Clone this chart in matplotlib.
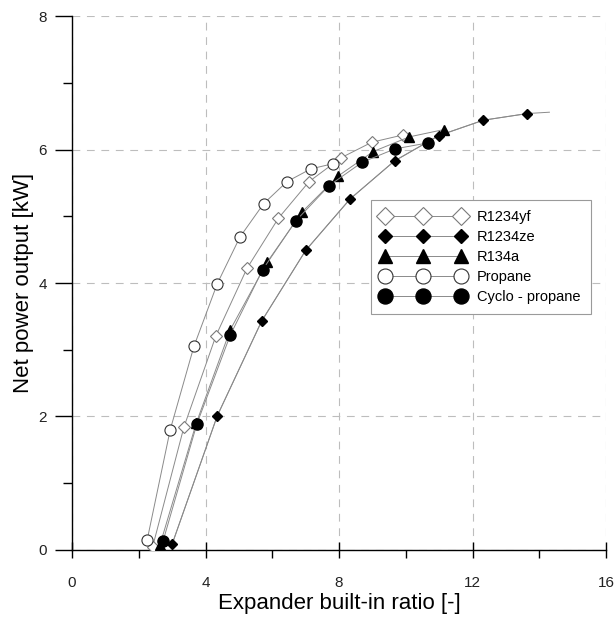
#!/usr/bin/env python3
import numpy as np
import matplotlib
matplotlib.use("Agg")
import matplotlib.pyplot as plt
from matplotlib.ticker import MultipleLocator

# =============================================================================
# data

yf_x = [2.41, 3.35, 4.31, 5.24, 6.18, 7.10, 8.07, 8.98, 9.92]
yf_y = [0.04, 1.84, 3.21, 4.22, 4.97, 5.52, 5.88, 6.11, 6.22]

ze_x = [3.00, 4.35, 5.68, 7.00, 8.33, 9.66, 10.99, 12.32, 13.64]
ze_y = [0.09, 2.01, 3.43, 4.49, 5.26, 5.83, 6.21, 6.44, 6.54]
ze_end = (14.30, 6.56)   # curve runs on a bit past the last marker

r134a_x = [2.63, 3.72, 4.74, 5.84, 6.90, 7.96, 9.02, 10.10, 11.14]
r134a_y = [0.07, 1.90, 3.30, 4.31, 5.07, 5.60, 5.97, 6.19, 6.30]

prop_x = [2.25, 2.94, 3.65, 4.35, 5.03, 5.74, 6.44, 7.15, 7.83]
prop_y = [0.15, 1.80, 3.05, 3.99, 4.69, 5.19, 5.52, 5.71, 5.79]

cyc_x = [2.73, 3.74, 4.74, 5.71, 6.70, 7.70, 8.69, 9.67, 10.66]
cyc_y = [0.14, 1.89, 3.22, 4.20, 4.93, 5.46, 5.81, 6.01, 6.10]

labels = ["R1234yf", "R1234ze", "R134a", "Propane", "Cyclo - propane"]

# =============================================================================

plt.rcParams["font.family"] = ["Liberation Sans", "DejaVu Sans"]

fig = plt.figure(figsize=(6.16, 6.20), dpi=100)
ax = fig.add_axes([0.117, 0.113, 0.867, 0.861])

lc = "#8a8a8a"
lw = 0.7

ax.plot(yf_x, yf_y, "-", color=lc, lw=lw, marker="D", ms=6.5,
        mfc="white", mec="#7a7a7a", mew=0.8, label=labels[0], zorder=3)
ax.plot(ze_x + [ze_end[0]], ze_y + [ze_end[1]], "-", color=lc, lw=lw,
        zorder=2)
ax.plot(ze_x, ze_y, "-", color=lc, lw=lw, marker="D", ms=5.5,
        mfc="black", mec="black", label=labels[1], zorder=3)
ax.plot(r134a_x, r134a_y, "-", color=lc, lw=lw, marker="^", ms=7.5,
        mfc="black", mec="black", label=labels[2], zorder=3)
ax.plot(prop_x, prop_y, "-", color=lc, lw=lw, marker="o", ms=8,
        mfc="white", mec="#333333", mew=0.8, label=labels[3], zorder=3)
ax.plot(cyc_x, cyc_y, "-", color=lc, lw=lw, marker="o", ms=8,
        mfc="black", mec="black", label=labels[4], zorder=3)

ax.set_xlim(0, 16)
ax.set_ylim(0, 8)
ax.xaxis.set_major_locator(MultipleLocator(4))
ax.xaxis.set_minor_locator(MultipleLocator(2))
ax.yaxis.set_major_locator(MultipleLocator(2))
ax.yaxis.set_minor_locator(MultipleLocator(1))

ax.spines["top"].set_visible(False)
ax.spines["right"].set_visible(False)
ax.spines["left"].set_linewidth(1.0)
ax.spines["bottom"].set_linewidth(1.0)

ax.tick_params(axis="x", which="major", direction="inout", length=12,
               width=1.0, pad=13, labelsize=11, labelcolor="#222222")
ax.tick_params(axis="x", which="minor", direction="out", length=5.5,
               width=1.0)
ax.tick_params(axis="y", which="major", direction="out", length=12,
               width=1.0, pad=6, labelsize=11, labelcolor="#222222")
ax.tick_params(axis="y", which="minor", direction="out", length=6.5,
               width=1.0)

ax.grid(True, which="major", color="#bdbdbd", lw=0.8, ls=(0, (7, 6)))
ax.set_axisbelow(True)

ax.set_xlabel("Expander built-in ratio [-]", fontsize=16, labelpad=2)
ax.set_ylabel("Net power output [kW]", fontsize=16, labelpad=3)

leg = ax.legend(loc="upper left", bbox_to_anchor=(0.559, 0.655),
                numpoints=3, markerscale=1.35, handlelength=5.8,
                fontsize=10.5, labelspacing=0.4, handletextpad=0.8,
                borderpad=0.7, fancybox=False, framealpha=1.0,
                borderaxespad=0)
leg.get_frame().set_edgecolor("#9a9a9a")
leg.get_frame().set_linewidth(0.8)

fig.savefig("out.png", dpi=100)
